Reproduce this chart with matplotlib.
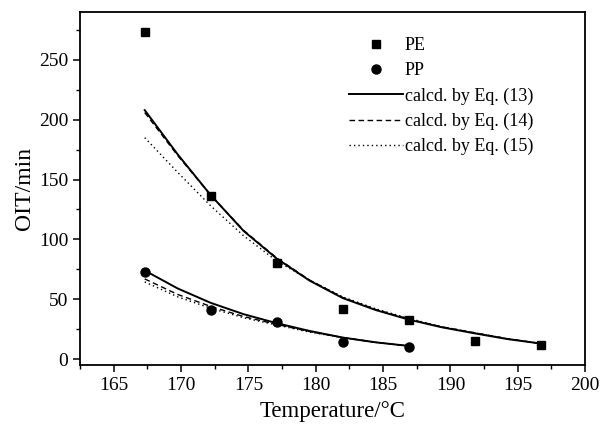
import numpy as np
import matplotlib.pyplot as plt

plt.rcParams['font.family'] = ['Liberation Serif', 'DejaVu Serif']
plt.rcParams['mathtext.fontset'] = 'stix'

# measured OIT values
temp_pe = [167.3, 172.2, 177.1, 182.0, 186.9, 191.8, 196.7]
oit_pe = [273.6, 136.5, 80.5, 42.2, 32.7, 15.5, 11.9]
temp_pp = [167.3, 172.2, 177.1, 182.0, 186.9]
oit_pp = [72.5, 40.8, 31.3, 14.7, 9.7]

# calculated curves
curve_t_pe = [167.3, 169.75, 172.2, 174.65, 177.1, 179.55, 182.0,
              184.45, 186.9, 189.35, 191.8, 194.25, 196.7]
pe_eq13 = [208, 171, 137, 107, 84, 65.5, 51, 41, 33, 26.6, 21.5, 16.7, 13]
pe_eq14 = [206, 170, 137, 107.5, 84.5, 66, 51.5, 41.5, 33.5, 27, 22, 17, 13]
pe_eq15 = [185, 156, 128, 103, 82, 66, 52, 42, 34, 27, 22, 17, 13]

curve_t_pp = [167.3, 169.75, 172.2, 174.65, 177.1, 179.55, 182.0, 184.45, 186.9]
pp_eq13 = [74, 59, 47, 37.5, 30, 23.5, 18, 14, 11]
pp_eq14 = [67, 54, 44, 35.5, 29, 23, 18, 14, 11]
pp_eq15 = [64.5, 52, 42.5, 34.5, 28.5, 22.5, 18, 14, 11]

fig = plt.figure(figsize=(6.02, 4.28), dpi=100)
ax = fig.add_axes([0.133, 0.147, 0.839, 0.825])

ax.plot(temp_pe, oit_pe, 's', color='black', ms=6, label='PE')
ax.plot(temp_pp, oit_pp, 'o', color='black', ms=6.5, label='PP')

ax.plot(curve_t_pe, pe_eq13, '-', color='black', lw=1.4, label='calcd. by Eq. (13)')
ax.plot(curve_t_pe, pe_eq14, color='black', lw=1.0, dashes=(4, 2.5), label='calcd. by Eq. (14)')
ax.plot(curve_t_pe, pe_eq15, color='black', lw=1.0, dashes=(1, 2.2), label='calcd. by Eq. (15)')
ax.plot(curve_t_pp, pp_eq13, '-', color='black', lw=1.4)
ax.plot(curve_t_pp, pp_eq14, color='black', lw=1.0, dashes=(4, 2.5))
ax.plot(curve_t_pp, pp_eq15, color='black', lw=1.0, dashes=(1, 2.2))

ax.set_xlim(162.5, 200)
ax.set_ylim(-5, 290)
ax.set_xticks(np.arange(165, 201, 5))
ax.set_xticks(np.arange(162.5, 200.1, 2.5), minor=True)
ax.set_yticks(np.arange(0, 251, 50))
ax.set_yticks(np.arange(0, 276, 25), minor=True)

for s in ax.spines.values():
    s.set_linewidth(1.3)
ax.tick_params(which='major', direction='out', length=5, width=1.1, labelsize=14)
ax.tick_params(which='minor', direction='out', length=3, width=1.0)

ax.set_xlabel('Temperature/°C', fontsize=16.5, labelpad=5)
ax.set_ylabel('OIT/min', fontsize=17, labelpad=3)

ax.legend(loc='upper left', bbox_to_anchor=(0.5, 0.975), frameon=False,
          fontsize=13, handlelength=3.0, handletextpad=0.1, labelspacing=0.45)

fig.savefig('out.png', dpi=100)
